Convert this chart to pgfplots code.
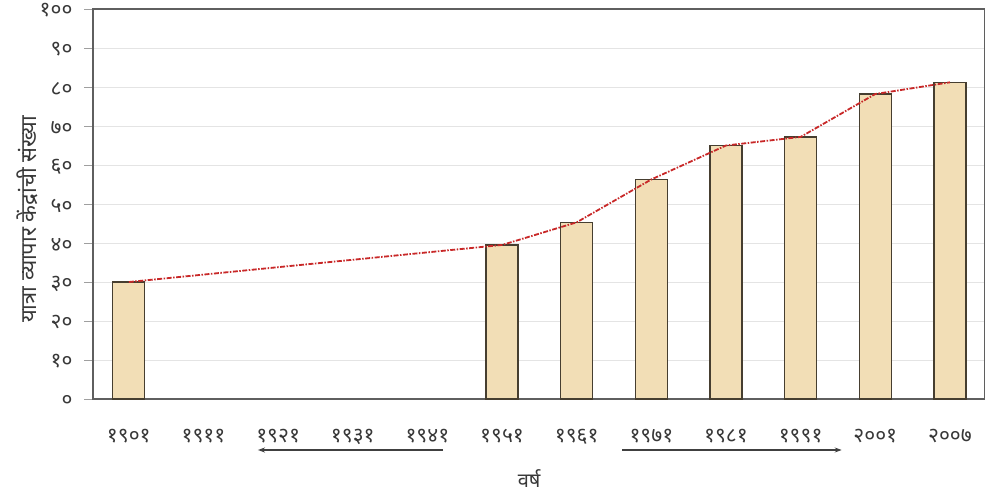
\documentclass[border=0pt]{standalone}
\usepackage{fontspec}
\newfontfamily\deva[Script=Devanagari]{Noto Sans}
\usepackage{pgfplots}
\pgfplotsset{compat=1.18}
\usetikzlibrary{arrows.meta}

\definecolor{barfill}{RGB}{242,222,182}
\definecolor{baredge}{RGB}{70,62,48}
\definecolor{axisgray}{RGB}{95,95,95}
\definecolor{gridgray}{RGB}{228,228,228}
\definecolor{linered}{RGB}{200,40,40}

\begin{document}
\begin{tikzpicture}
\begin{axis}[
    name=ax,
    width=892pt, height=390pt,
    scale only axis,
    xmin=-0.48, xmax=11.47,
    ymin=0, ymax=100,
    xtick={0,...,11},
    xticklabels={१९०१,१९११,१९२१,१९३१,१९४१,१९५१,१९६१,१९७१,१९८१,१९९१,२००१,२००७},
    ytick={0,10,...,100},
    yticklabels={०,१०,२०,३०,४०,५०,६०,७०,८०,९०,१००},
    ticklabel style={font=\deva\fontsize{21}{21}\selectfont, text=black!78},
    xticklabel style={yshift=-18pt},
    yticklabel style={xshift=-8pt, yshift=-1.5pt},
    tick align=outside,
    major tick length=9pt,
    tick style={axisgray!60, line width=0.6pt},
    x tick style={draw=none},
    ymajorgrids,
    grid style={gridgray, line width=0.8pt},
    axis line style={axisgray, line width=1.3pt},
    xlabel={\deva वर्ष},
    xlabel style={font=\fontsize{20}{20}\selectfont, text=black!78,
        at={(axis description cs:0.489,-0.205)}, anchor=center},
    ylabel={\deva यात्रा व्यापार केंद्रांची संख्या},
    ylabel style={font=\fontsize{22}{22}\selectfont, text=black!78,
        at={(axis description cs:-0.074,0.46)}, anchor=center},
    clip=false,
]
\addplot[ybar, bar width=32pt, fill=barfill, draw=baredge, line width=1.2pt]
coordinates {
(0,30) (5,39.5) (6,45.3) (7,56.3) (8,65) (9,67.2) (10,78.2) (11,81.2)
};
\addplot[linered, line width=1.8pt, dash pattern=on 5pt off 1.5pt on 1.5pt off 1.5pt, mark=none]
coordinates {
(0,30) (5,39.5) (6,45.3) (7,56.3) (8,65) (9,67.2) (10,78.2) (11,81.2)
};
\draw[black!75, line width=1.6pt, -{Stealth[length=7pt,width=5pt]}]
    ([yshift=-51pt]axis cs:4.21,0) -- ([yshift=-51pt]axis cs:1.73,0);
\draw[black!75, line width=1.6pt, -{Stealth[length=7pt,width=5pt]}]
    ([yshift=-51pt]axis cs:6.61,0) -- ([yshift=-51pt]axis cs:9.55,0);
\end{axis}
\pgfresetboundingbox
\path ([shift={(-93pt,-99pt)}]ax.south west) rectangle ([shift={(0pt,9pt)}]ax.north east);
\end{tikzpicture}
\end{document}
